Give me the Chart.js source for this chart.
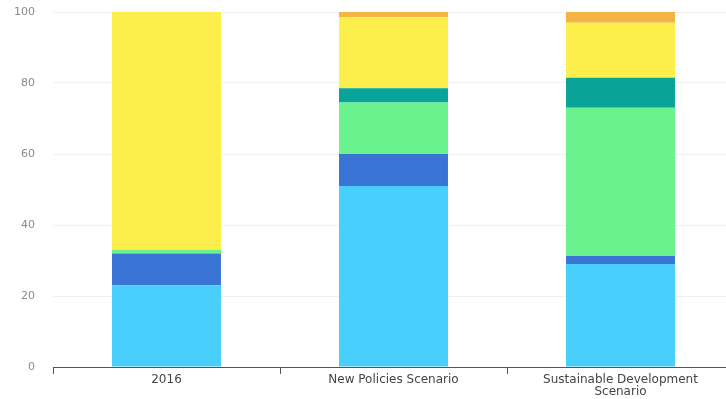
<!DOCTYPE html>
<html>
<head>
<meta charset="utf-8">
<script src="https://cdn.jsdelivr.net/npm/chart.js@4"></script>
<style>
  html, body { margin: 0; padding: 0; background: #fff; overflow: hidden; }
  #wrap { position: relative; width: 734px; height: 399px; }
</style>
</head>
<body>
<div id="wrap"><canvas id="mainChart"></canvas></div>
<script>
// --- DATA ---
const categories = ['2016', 'New Policies Scenario', ['Sustainable Development', 'Scenario']];
const yTicks = [0, 20, 40, 60, 80, 100];

const lightBlue = [23, 51, 29];
const darkBlue = [9, 9, 2.3];
const lightGreen = [1, 14.5, 41.7];
const teal = [0, 4, 8.5];
const yellow = [67, 20, 15.5];
const orange = [0, 1.5, 3];

const seriesList = [
    { data: lightBlue, color: '#48cffc' },
    { data: darkBlue, color: '#3a74d4' },
    { data: lightGreen, color: '#6af28f' },
    { data: teal, color: '#0aa398' },
    { data: yellow, color: '#fcef4c' },
    { data: orange, color: '#f4b444' }
];

// --- CHART ---
const ctx = document.getElementById('mainChart').getContext('2d');
new Chart(ctx, {
    type: 'bar',
    data: {
        labels: categories,
        datasets: seriesList.map(s => ({
            data: s.data,
            backgroundColor: s.color,
            borderWidth: 0,
            categoryPercentage: 1,
            barPercentage: 0.48
        }))
    },
    options: {
        responsive: true,
        maintainAspectRatio: false,
        animation: false,
        layout: { padding: { top: 12, left: 0, right: 0, bottom: 0 } },
        plugins: { legend: { display: false }, tooltip: { enabled: false } },
        scales: {
            x: {
                stacked: true,
                afterFit: axis => {
                    axis.height = 32;
                    axis.paddingTop = 0;
                    axis.paddingBottom = 0;
                },
                border: { display: true, color: '#555', width: 1 },
                grid: {
                    offset: true,
                    drawOnChartArea: false,
                    drawTicks: true,
                    tickLength: 7,
                    color: '#555'
                },
                ticks: {
                    color: '#444',
                    padding: 0,
                    maxRotation: 0,
                    font: { family: 'DejaVu Sans', size: 12, lineHeight: 1.0 }
                }
            },
            y: {
                stacked: true,
                min: 0,
                max: 100,
                afterBuildTicks: axis => { axis.ticks = yTicks.map(v => ({ value: v })); },
                afterFit: axis => {
                    axis.width = 53;
                    axis.paddingTop = 0;
                    axis.paddingBottom = 0;
                },
                border: { display: false },
                grid: { color: '#f1f1f1', drawTicks: false },
                ticks: {
                    color: '#8a8a8a',
                    padding: 18,
                    font: { family: 'DejaVu Sans', size: 11 }
                }
            }
        }
    }
});
</script>
</body>
</html>
